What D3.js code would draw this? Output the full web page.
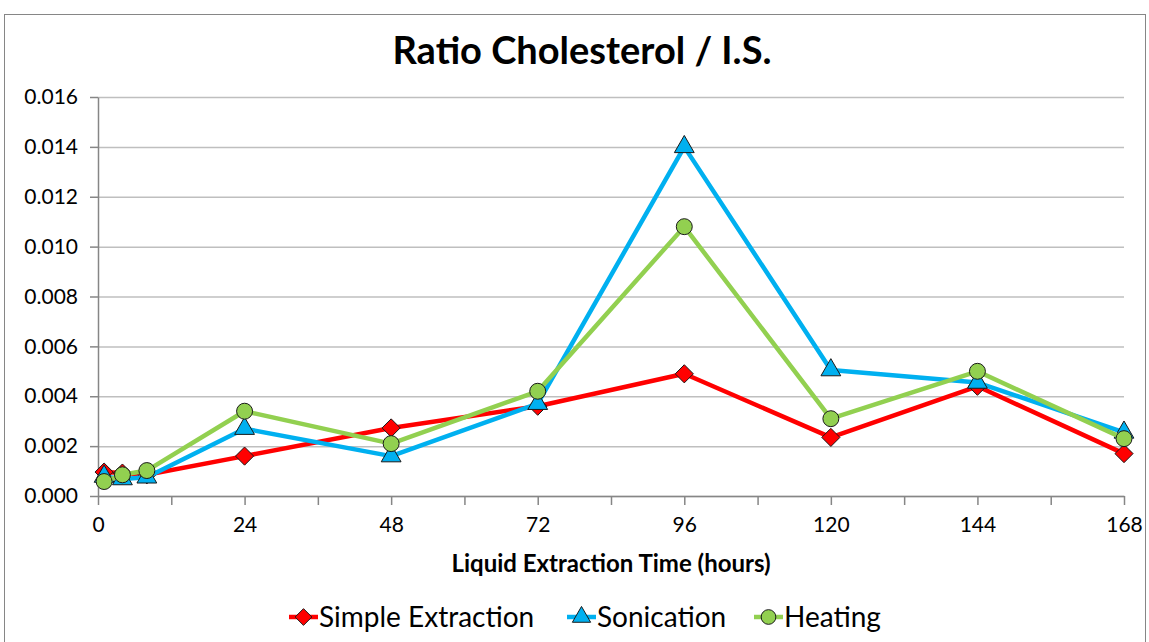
<!DOCTYPE html>
<html>
<head>
<meta charset="utf-8">
<script src="https://cdn.jsdelivr.net/npm/d3@7"></script>
<style>
  body { margin: 0; background: #fff; }
  svg { display: block; font-family: Lato, "Open Sans", sans-serif; }
</style>
</head>
<body>
<svg></svg>
<script>
const HOURS = [1, 4, 8, 24, 48, 72, 96, 120, 144, 168];
const SIMPLE = [0.00096, 0.00092, 0.00085, 0.0016, 0.00273, 0.0036, 0.0049, 0.00235, 0.0044, 0.0017];
const SONICATION = [0.00078, 0.00068, 0.00075, 0.0027, 0.0016, 0.0037, 0.014, 0.00505, 0.00455, 0.00255];
const HEATING = [0.00058, 0.00085, 0.00102, 0.0034, 0.0021, 0.0042, 0.0108, 0.0031, 0.005, 0.0023];
const X_TICKS = [0, 12, 24, 36, 48, 60, 72, 84, 96, 108, 120, 132, 144, 156, 168];
const Y_TICKS = [0, 0.002, 0.004, 0.006, 0.008, 0.01, 0.012, 0.014, 0.016];
const SERIES_NAMES = ["Simple Extraction", "Sonication", "Heating"];

const WIDTH = 1149;
const HEIGHT = 642;
const PLOT_LEFT = 98;
const PLOT_RIGHT = 1124;
const PLOT_TOP = 97;
const PLOT_BOTTOM = 496;

const series = [
  { name: SERIES_NAMES[0], values: SIMPLE, color: "#ff0000", symbol: d3.symbolDiamond2, size: 210 },
  { name: SERIES_NAMES[1], values: SONICATION, color: "#00b0f0", symbol: d3.symbolTriangle, size: 170 },
  { name: SERIES_NAMES[2], values: HEATING, color: "#92d050", symbol: d3.symbolCircle, size: 200 },
];

const xScale = d3.scaleLinear().domain([0, 168]).range([PLOT_LEFT, PLOT_RIGHT]);
const yScale = d3.scaleLinear().domain([0, 0.016]).range([PLOT_BOTTOM, PLOT_TOP]);

const svg = d3.select("svg").attr("width", WIDTH).attr("height", HEIGHT);

// chart border
svg.append("rect")
  .attr("x", 4.5).attr("y", 14.5)
  .attr("width", 1141).attr("height", 640)
  .attr("fill", "none")
  .attr("stroke", "#868686");

svg.append("text")
  .attr("x", 582).attr("y", 64)
  .attr("text-anchor", "middle")
  .attr("font-size", 38)
  .attr("font-weight", "bold")
  .text("Ratio Cholesterol / I.S.");

// gridlines
svg.append("g")
  .attr("transform", `translate(${PLOT_LEFT},0)`)
  .call(d3.axisLeft(yScale).tickValues(Y_TICKS).tickSize(-(PLOT_RIGHT - PLOT_LEFT)).tickFormat(""))
  .call((g) => g.select(".domain").remove())
  .call((g) => g.selectAll("line").attr("stroke", "#bfbfbf").attr("stroke-width", 1.5));

// y axis
const yAxis = svg.append("g")
  .attr("transform", `translate(${PLOT_LEFT},0)`)
  .call(d3.axisLeft(yScale).tickValues(Y_TICKS).tickSizeInner(8).tickSizeOuter(0).tickPadding(12).tickFormat(d3.format(".3f")));
yAxis.select(".domain").attr("stroke", "#868686").attr("stroke-width", 1.5);
yAxis.selectAll("line").attr("stroke", "#868686").attr("stroke-width", 1.5);
yAxis.selectAll("text").attr("font-size", 21).attr("font-family", "Lato").attr("fill", "#000");

// x axis
const xAxis = svg.append("g")
  .attr("transform", `translate(0,${PLOT_BOTTOM})`)
  .call(d3.axisBottom(xScale).tickValues(X_TICKS).tickSizeInner(9).tickSizeOuter(0).tickPadding(12)
    .tickFormat((d) => (d % 24 === 0 ? d : "")));
xAxis.select(".domain").attr("stroke", "#868686").attr("stroke-width", 1.5);
xAxis.selectAll("line").attr("stroke", "#868686").attr("stroke-width", 1.5);
xAxis.selectAll("text").attr("font-size", 21).attr("font-family", "Lato").attr("fill", "#000");

svg.append("text")
  .attr("x", 611).attr("y", 572)
  .attr("text-anchor", "middle")
  .attr("font-size", 24)
  .attr("font-weight", "bold")
  .text("Liquid Extraction Time (hours)");

const line = d3.line()
  .x((d) => xScale(d[0]))
  .y((d) => yScale(d[1]));

series.forEach((s) => {
  const pts = HOURS.map((h, i) => [h, s.values[i]]);
  const g = svg.append("g");
  g.append("path")
    .datum(pts)
    .attr("d", line)
    .attr("fill", "none")
    .attr("stroke", s.color)
    .attr("stroke-width", 4.5)
    .attr("stroke-linejoin", "round");
  g.selectAll(".pt")
    .data(pts)
    .enter()
    .append("path")
    .attr("class", "pt")
    .attr("d", d3.symbol().type(s.symbol).size(s.size))
    .attr("transform", (d) => `translate(${xScale(d[0])},${yScale(d[1])})`)
    .attr("fill", s.color)
    .attr("stroke", "#1a1a1a")
    .attr("stroke-width", 1);
});

// legend
const legendX = [289, 567, 754];
series.forEach((s, i) => {
  const g = svg.append("g").attr("transform", `translate(${legendX[i]},617)`);
  g.append("line")
    .attr("x1", 0).attr("x2", 29)
    .attr("stroke", s.color).attr("stroke-width", 4.5);
  g.append("path")
    .attr("d", d3.symbol().type(s.symbol).size(s.size * 0.85))
    .attr("transform", "translate(14.5,0)")
    .attr("fill", s.color)
    .attr("stroke", "#1a1a1a")
    .attr("stroke-width", 1);
  g.append("text")
    .attr("x", 30).attr("y", 10)
    .attr("font-size", 28)
    .text(s.name);
});
</script>
</body>
</html>
